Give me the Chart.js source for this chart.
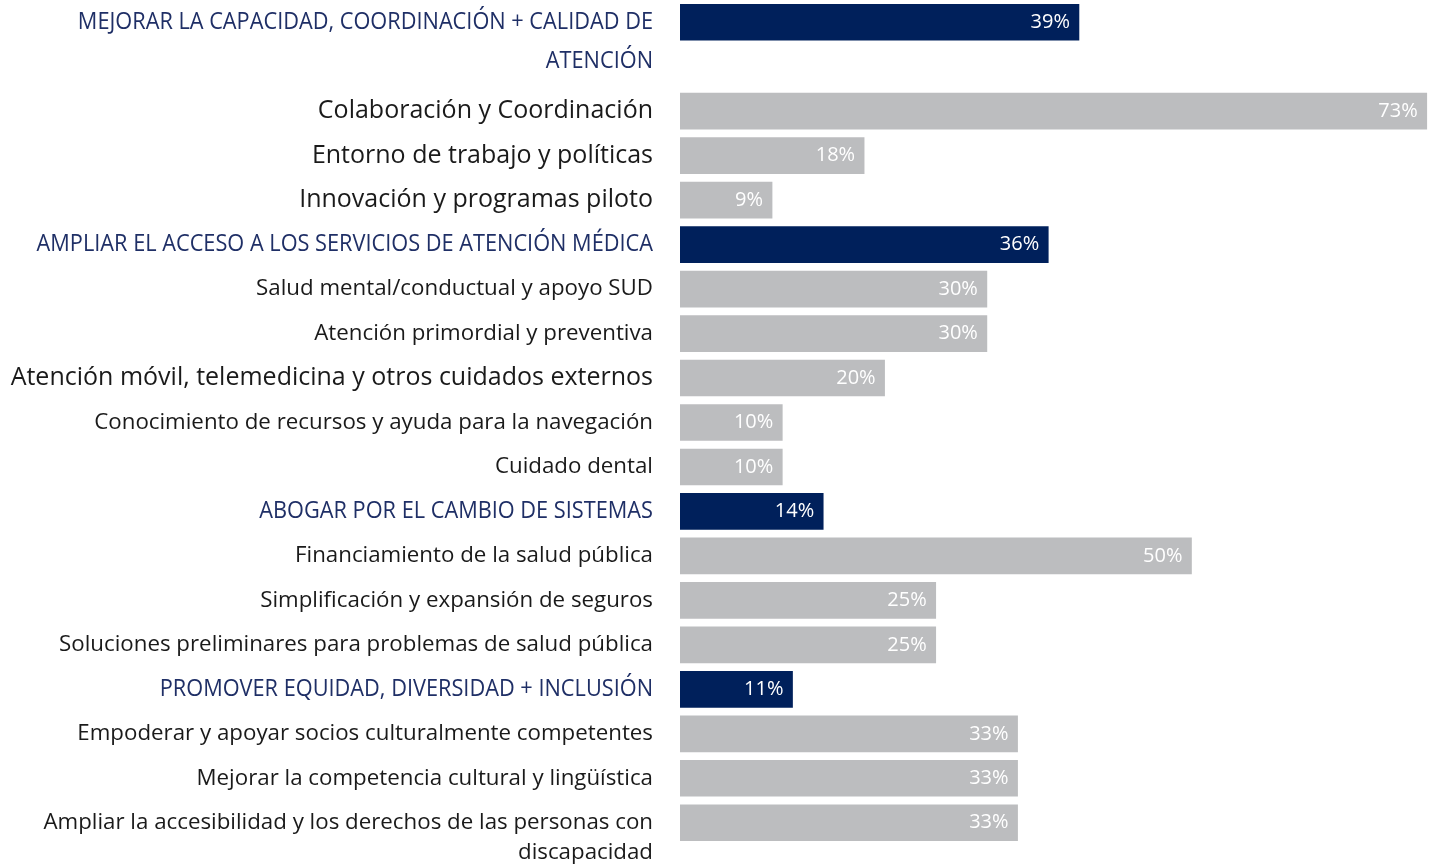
<!DOCTYPE html>
<html><head><meta charset="utf-8">
<script src="https://cdn.jsdelivr.net/npm/chart.js@4.4.1/dist/chart.umd.min.js"></script>
<style>html,body{margin:0;padding:0;background:#fff;overflow:hidden}#wrap{position:relative;width:1437px;height:867px}</style>
</head><body><div id="wrap"><canvas id="c"></canvas></div>
<script>
// ---- data ----
const categories = [
  ['MEJORAR LA CAPACIDAD, COORDINACIÓN + CALIDAD DE', 'ATENCIÓN'],
  'Colaboración y Coordinación',
  'Entorno de trabajo y políticas',
  'Innovación y programas piloto',
  'AMPLIAR EL ACCESO A LOS SERVICIOS DE ATENCIÓN MÉDICA',
  'Salud mental/conductual y apoyo SUD',
  'Atención primordial y preventiva',
  'Atención móvil, telemedicina y otros cuidados externos',
  'Conocimiento de recursos y ayuda para la navegación',
  'Cuidado dental',
  'ABOGAR POR EL CAMBIO DE SISTEMAS',
  'Financiamiento de la salud pública',
  'Simplificación y expansión de seguros',
  'Soluciones preliminares para problemas de salud pública',
  'PROMOVER EQUIDAD, DIVERSIDAD + INCLUSIÓN',
  'Empoderar y apoyar socios culturalmente competentes',
  'Mejorar la competencia cultural y lingüística',
  ['Ampliar la accesibilidad y los derechos de las personas con', 'discapacidad']
];
const values = [39, 73, 18, 9, 36, 30, 30, 20, 10, 10, 14, 50, 25, 25, 11, 33, 33, 33];
const valueSuffix = '%';

// ---- styles ----
const NAVY = '#00205b';
const GRAY = '#bcbdbf';
const HEAD_TEXT = '#1f2f66';
const BODY_TEXT = '#1a1a1a';
const largeRows = [1, 2, 3, 7];
const FAMILY = '"Open Sans", "Noto Sans", sans-serif';

function lines(c) { return Array.isArray(c) ? c : [c]; }
function isHeading(c) { const t = lines(c).join(' '); return t === t.toUpperCase(); }
function styleFor(i) {
  const c = categories[i];
  if (isHeading(c)) return { size: 23, color: HEAD_TEXT, hscale: 0.945, lineHeight: 39 };
  if (largeRows.includes(i)) return { size: 25, color: BODY_TEXT, hscale: 1, lineHeight: 32 };
  return { size: 22.3, color: BODY_TEXT, hscale: 1, lineHeight: 30 };
}

// A wrapped heading occupies its own extra row for the continuation line.
const rows = [];
categories.forEach((c, i) => {
  rows.push({ idx: i, value: values[i] });
  if (Array.isArray(c) && isHeading(c)) rows.push({ idx: -1, value: null });
});

const labelPlugin = {
  id: 'rowLabels',
  afterDraw(chart) {
    const y = chart.scales.y, ctx = chart.ctx;
    const right = chart.chartArea.left - 27;
    rows.forEach((r, k) => {
      if (r.idx < 0) return;
      const st = styleFor(r.idx);
      const cy = y.getPixelForValue(k);
      ctx.save();
      ctx.font = `400 ${st.size}px ${FAMILY}`;
      ctx.fillStyle = st.color;
      ctx.textAlign = 'right';
      ctx.textBaseline = 'middle';
      lines(categories[r.idx]).forEach((ln, j) => {
        ctx.save();
        ctx.translate(right, cy + j * st.lineHeight);
        ctx.scale(st.hscale, 1);
        ctx.fillText(ln, 0, 0);
        ctx.restore();
      });
      ctx.restore();
    });
  }
};

const valuePlugin = {
  id: 'valueLabels',
  afterDatasetsDraw(chart) {
    const ctx = chart.ctx;
    const meta = chart.getDatasetMeta(0);
    ctx.save();
    ctx.font = `400 20px ${FAMILY}`;
    ctx.fillStyle = '#ffffff';
    ctx.textAlign = 'right';
    ctx.textBaseline = 'middle';
    meta.data.forEach((bar, k) => {
      const v = rows[k].value;
      if (v == null) return;
      ctx.fillText(v + valueSuffix, bar.x - 9, bar.y);
    });
    ctx.restore();
  }
};

new Chart(document.getElementById('c'), {
  type: 'bar',
  data: {
    labels: rows.map((r, k) => r.idx < 0 ? '' : lines(categories[r.idx]).join(' ')),
    datasets: [{
      data: rows.map(r => r.value),
      backgroundColor: ctx => {
        const r = rows[ctx.dataIndex];
        return r && r.idx >= 0 && isHeading(categories[r.idx]) ? NAVY : GRAY;
      },
      borderWidth: 0,
      barThickness: 36
    }]
  },
  options: {
    indexAxis: 'y',
    responsive: true,
    maintainAspectRatio: false,
    animation: false,
    layout: { padding: { top: 0, bottom: 22, left: 0, right: 0 } },
    plugins: { legend: { display: false }, tooltip: { enabled: false } },
    scales: {
      x: { display: false, min: 0, max: 74 },
      y: {
        display: true,
        grid: { display: false },
        border: { display: false },
        ticks: { display: false },
        afterFit(s) { s.width = 680; }
      }
    }
  },
  plugins: [labelPlugin, valuePlugin]
});
</script>
</body></html>
